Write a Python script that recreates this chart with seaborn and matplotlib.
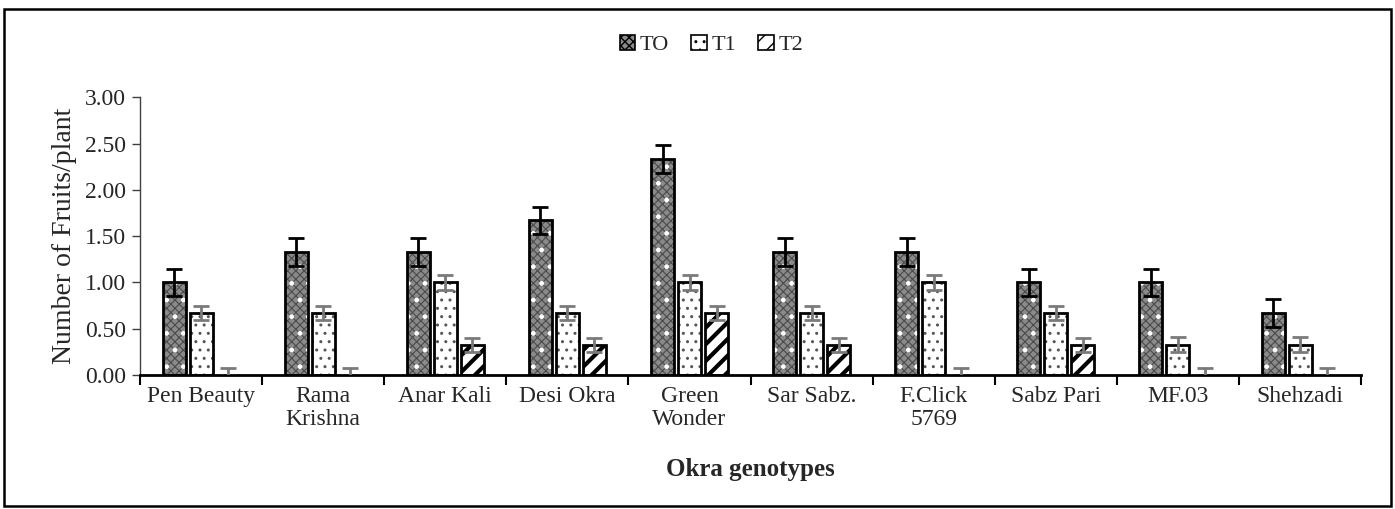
import numpy as np
import pandas as pd
import seaborn as sns
import matplotlib.pyplot as plt
from matplotlib.patches import Patch, Rectangle
from matplotlib.ticker import FixedLocator, FormatStrFormatter

genotypes = ["Pen Beauty", "Rama\nKrishna", "Anar Kali", "Desi Okra", "Green\nWonder",
             "Sar Sabz.", "F.Click\n5769", "Sabz Pari", "MF.03", "Shehzadi"]
treatments = ["TO", "T1", "T2"]
t0 = [1.00, 1.33, 1.33, 1.67, 2.33, 1.33, 1.33, 1.00, 1.00, 0.67]
t1 = [0.67, 0.67, 1.00, 0.67, 1.00, 0.67, 1.00, 0.67, 0.33, 0.33]
t2 = [0.00, 0.00, 0.33, 0.33, 0.67, 0.33, 0.00, 0.33, 0.00, 0.00]
err = {"TO": 0.15, "T1": 0.08, "T2": 0.075}

df = pd.DataFrame({
    "genotype": genotypes * 3,
    "treatment": ["TO"] * 10 + ["T1"] * 10 + ["T2"] * 10,
    "value": t0 + t1 + t2,
})

sns.set_style("ticks")
plt.rcParams["font.family"] = ["Liberation Serif", "DejaVu Serif"]

fig = plt.figure(figsize=(13.95, 5.09), dpi=100)
ax = fig.add_axes([0.1004, 0.263, 0.8753, 0.546])

sns.barplot(data=df, x="genotype", y="value", hue="treatment", hue_order=treatments,
            order=genotypes, errorbar=None, width=0.664, gap=0.15, legend=False, ax=ax)

# fill colour + one or two hatch layers (hatch, colour, hatch linewidth)
styles = {
    "TO": dict(face="#8a8a8a", layers=[("xxxx", "#4a4a4a", 0.8), (".", "white", 1.0)]),
    "T1": dict(face="white", layers=[("..", "#555555", 1.0)]),
    "T2": dict(face="white", layers=[("//", "black", 3.0)]),
}
ecol = {"TO": "black", "T1": "#7a7a7a", "T2": "#7a7a7a"}


def hatch_bars(x, h, w, hatch, col, hlw, z):
    bars = ax.bar(x, h, width=w, align="edge", facecolor="none", edgecolor=col,
                  hatch=hatch, linewidth=0, zorder=z)
    for p in bars.patches:
        if hasattr(p, "set_hatch_linewidth"):
            p.set_hatch_linewidth(hlw)


for cont, t in zip(ax.containers, treatments):
    st = styles[t]
    xs, ws, hs = [], [], []
    for p in cont.patches:
        p.set_facecolor(st["face"])
        p.set_edgecolor("none")
        p.set_linewidth(0)
        xs.append(p.get_x())
        ws.append(p.get_width())
        hs.append(p.get_height())
    xs = np.array(xs); ws = np.array(ws); hs = np.array(hs)
    for i, (hatch, col, hlw) in enumerate(st["layers"]):
        hatch_bars(xs, hs, ws, hatch, col, hlw, 2.1 + i * 0.01)
    m = hs > 0
    ax.bar(xs[m], hs[m], width=ws[m], align="edge", facecolor="none",
           edgecolor="black", linewidth=2, zorder=2.2)
    ax.errorbar(xs + ws / 2, hs, yerr=err[t], fmt="none", ecolor=ecol[t],
                elinewidth=2, capsize=6, capthick=2, zorder=3)

ax.set_ylim(0, 3)
ax.set_xlim(-0.5, 9.5)
ax.set_yticks(np.arange(0, 3.01, 0.5))
ax.yaxis.set_major_formatter(FormatStrFormatter("%.2f"))
ax.xaxis.set_minor_locator(FixedLocator(np.arange(-0.5, 10, 1)))
ax.tick_params(axis="x", which="major", length=0, labelsize=17, pad=8)
ax.tick_params(axis="x", which="minor", length=7, width=1.5, direction="out", color="black")
ax.tick_params(axis="y", length=6, width=1, color="#404040", labelsize=17, pad=4)
for lab in ax.get_xticklabels():
    lab.set_linespacing(1.1)
sns.despine(ax=ax)
ax.spines["left"].set_color("#404040")
ax.spines["left"].set_linewidth(1)
ax.spines["bottom"].set_color("black")
ax.spines["bottom"].set_linewidth(2)

ax.set_ylabel("Number of Fruits/plant", fontsize=20, labelpad=6)
ax.set_xlabel("Okra genotypes", fontsize=18, fontweight="bold", labelpad=20)

leg_hatch = {"TO": "xxxx", "T1": "..", "T2": "//"}
handles = [Patch(facecolor=styles[t]["face"], edgecolor="black", hatch=leg_hatch[t],
                 linewidth=1.2, label=t) for t in treatments]
fig.legend(handles=handles, loc="center", bbox_to_anchor=(0.51, 0.912), ncol=3, frameon=False,
           fontsize=16, handlelength=0.7, handleheight=0.7, handletextpad=0.2, columnspacing=1.0)

fig.patches.append(Rectangle((0.003, 0.006), 0.994, 0.976, transform=fig.transFigure,
                             fill=False, edgecolor="black", linewidth=1.8, figure=fig))

fig.savefig("out.png", dpi=100)
